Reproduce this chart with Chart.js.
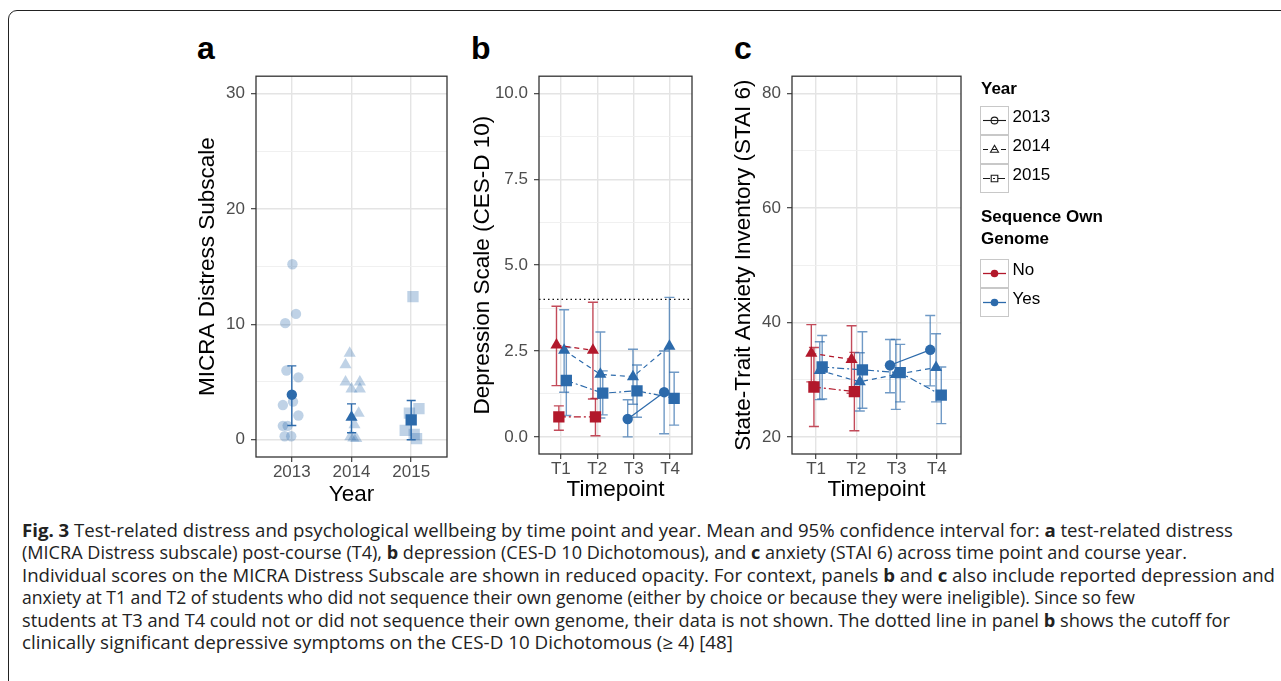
<!DOCTYPE html>
<html>
<head>
<meta charset="utf-8">
<script src="https://cdn.jsdelivr.net/npm/chart.js@4.4.1/dist/chart.umd.min.js"></script>
<style>
  body { margin: 0; background: #fff; width: 1281px; height: 681px; overflow: hidden; position: relative; font-family: 'Liberation Sans', Arial, sans-serif; }
  .frame { position: absolute; left: 8px; top: 10px; width: 1320px; height: 700px; border: 1.4px solid #222; border-radius: 9px; }
  canvas.panel { position: absolute; }
  .tag { position: absolute; top: 32px; font: bold 32px 'Liberation Sans', Arial, sans-serif; line-height: 32px; color: #000; }
  #caption { position: absolute; left: 22px; top: 519px; font-family: 'Open Sans', sans-serif; font-size: 17.5px; line-height: 22.4px; color: #222; white-space: nowrap; }
  #caption div { transform-origin: 0 0; }
</style>
</head>
<body>
<div class="frame"></div>
<div class="tag" style="left:197px">a</div>
<div class="tag" style="left:471px">b</div>
<div class="tag" style="left:734px">c</div>
<canvas class="panel" id="panelA" width="265" height="450" style="left:190px; top:60px"></canvas>
<canvas class="panel" id="panelB" width="235" height="445" style="left:465px; top:60px"></canvas>
<canvas class="panel" id="panelC" width="243" height="445" style="left:726px; top:60px"></canvas>
<canvas class="panel" id="legend" width="200" height="260" style="left:970px; top:70px"></canvas>
<div id="caption">
  <div><b>Fig. 3</b> Test-related distress and psychological wellbeing by time point and year. Mean and 95% confidence interval for: <b>a</b> test-related distress</div>
  <div>(MICRA Distress subscale) post-course (T4), <b>b</b> depression (CES-D 10 Dichotomous), and <b>c</b> anxiety (STAI 6) across time point and course year.</div>
  <div>Individual scores on the MICRA Distress Subscale are shown in reduced opacity. For context, panels <b>b</b> and <b>c</b> also include reported depression and</div>
  <div>anxiety at T1 and T2 of students who did not sequence their own genome (either by choice or because they were ineligible). Since so few</div>
  <div>students at T3 and T4 could not or did not sequence their own genome, their data is not shown. The dotted line in panel <b>b</b> shows the cutoff for</div>
  <div>clinically significant depressive symptoms on the CES-D 10 Dichotomous (≥ 4) [48]</div>
</div>
<script>
// ---- data ----
const years = ['2013', '2014', '2015'];
const timepoints = ['T1', 'T2', 'T3', 'T4'];
const genomeGroups = ['No', 'Yes'];

// a: MICRA distress subscale at T4
const distressMean = [3.9, 1.95, 1.72];
const distressLow = [1.23, 0.6, 0];
const distressHigh = [6.4, 3.1, 3.4];
const scores2013 = [15.2, 10.9, 10.1, 6.0, 5.4, 3.0, 3.3, 2.1, 1.2, 1.2, 0.3, 0.3];
const jitter2013 = [0.01, 0.07, -0.11, -0.09, 0.11, -0.15, 0.02, 0.11, -0.15, -0.07, -0.12, -0.01];
const scores2014 = [7.5, 6.5, 5.0, 5.0, 4.4, 4.4, 2.3, 1.3, 0.25, 0.15, 0.1];
const jitter2014 = [-0.03, -0.1, -0.1, 0.14, 0, 0.14, 0.12, 0.05, -0.02, 0.03, 0.08];
const scores2015 = [12.4, 2.7, 2.3, 0.8, 0.45, 0.1];
const jitter2015 = [0.03, 0.13, -0.03, -0.1, 0.05, 0.09];

// b: CES-D 10 by timepoint
const cesCutoff = 4;
const cesNo2014 = [2.67, 2.52, null, null];
const cesNo2014Low = [1.49, 1.1, null, null];
const cesNo2014High = [3.8, 3.92, null, null];
const cesNo2015 = [0.58, 0.58, null, null];
const cesNo2015Low = [0.19, 0.03, null, null];
const cesNo2015High = [0.9, 1.12, null, null];
const cesYes2013 = [null, null, 0.52, 1.3];
const cesYes2013Low = [null, null, 0, 0.09];
const cesYes2013High = [null, null, 1.08, 2.5];
const cesYes2014 = [2.52, 1.82, 1.75, 2.64];
const cesYes2014Low = [1.3, 0.55, 0.95, 1.22];
const cesYes2014High = [3.7, 3.05, 2.55, 4.06];
const cesYes2015 = [1.64, 1.27, 1.34, 1.12];
const cesYes2015Low = [0.62, 0.64, 0.57, 0.34];
const cesYes2015High = [2.6, 1.92, 2.09, 1.88];

// c: STAI 6 by timepoint
const staiNo2014 = [34.6, 33.5, null, null];
const staiNo2014Low = [29.6, 27.6, null, null];
const staiNo2014High = [39.6, 39.4, null, null];
const staiNo2015 = [28.7, 27.9, null, null];
const staiNo2015Low = [21.8, 21.05, null, null];
const staiNo2015High = [35.6, 34.75, null, null];
const staiYes2013 = [null, null, 32.5, 35.2];
const staiYes2013Low = [null, null, 27.7, 28.9];
const staiYes2013High = [null, null, 37.0, 41.2];
const staiYes2014 = [31.6, 29.6, 30.9, 32.1];
const staiYes2014Low = [26.5, 24.5, 24.8, 26.1];
const staiYes2014High = [36.6, 34.7, 37.0, 38.0];
const staiYes2015 = [32.2, 31.7, 31.2, 27.3];
const staiYes2015Low = [26.6, 25.0, 26.1, 22.3];
const staiYes2015High = [37.7, 38.35, 36.15, 32.2];

// ---- styles ----
const FONT = "'Liberation Sans', Arial, sans-serif";
const colors = { No: '#B2182B', Yes: '#2C6AAB' };
const barColors = { No: 'rgba(178,24,43,0.78)', Yes: 'rgba(44,106,171,0.68)' };
const lightBlue = 'rgba(44,106,171,0.3)';
const yearStyle = {
  '2013': { point: 'circle', radius: 5.2, dash: [] },
  '2014': { point: 'triangle', radius: 7, dash: [5, 4] },
  '2015': { point: 'rect', radius: 8, dash: [7, 3, 2, 3] }
};
// position_dodge offsets (in category units) per year/group and timepoint
const dodge = {
  'No2014': [-0.12, -0.12, 0, 0],
  'No2015': [-0.055, -0.05, 0, 0],
  'Yes2013': [0, 0, -0.165, -0.165],
  'Yes2014': [0.09, 0.085, -0.02, -0.02],
  'Yes2015': [0.15, 0.15, 0.09, 0.11]
};

// error bars + full panel border
const panelFrame = {
  id: 'panelFrame',
  beforeDatasetsDraw(chart) {
    const { ctx, scales: { x, y } } = chart;
    chart.data.datasets.forEach(ds => {
      if (!ds.errLow) return;
      ctx.save();
      ctx.strokeStyle = ds.errColor;
      ctx.lineWidth = 1.4;
      ds.data.forEach((p, i) => {
        if (p.y == null || ds.errLow[i] == null) return;
        const px = x.getPixelForValue(p.x);
        const y1 = y.getPixelForValue(ds.errLow[i]);
        const y2 = y.getPixelForValue(ds.errHigh[i]);
        const w = ds.capHalf;
        ctx.beginPath();
        ctx.moveTo(px, y1); ctx.lineTo(px, y2);
        ctx.moveTo(px - w, y1); ctx.lineTo(px + w, y1);
        ctx.moveTo(px - w, y2); ctx.lineTo(px + w, y2);
        ctx.stroke();
      });
      ctx.restore();
    });
  },
  afterDraw(chart) {
    const { ctx, chartArea: a } = chart;
    ctx.save();
    ctx.strokeStyle = '#333';
    ctx.lineWidth = 1.3;
    ctx.strokeRect(a.left, a.top, a.right - a.left, a.bottom - a.top);
    ctx.restore();
  }
};

function seriesDataset(group, year, vals, low, high) {
  const st = yearStyle[year];
  const off = dodge[group + year];
  return {
    type: 'line',
    data: vals.map((v, i) => ({ x: i + 1 + off[i], y: v })),
    borderColor: colors[group],
    borderWidth: 1.2,
    borderDash: st.dash,
    pointStyle: st.point,
    pointRadius: st.radius,
    pointBackgroundColor: colors[group],
    pointBorderWidth: 0,
    pointHoverRadius: st.radius,
    spanGaps: false,
    errLow: low, errHigh: high,
    errColor: barColors[group], capHalf: 5
  };
}

function panelOptions(cfg) {
  const major = v => cfg.isMajor(v);
  return {
    responsive: false,
    animation: false,
    events: [],
    layout: { padding: { top: cfg.padTop, right: 8, left: 0, bottom: 0 } },
    plugins: { legend: { display: false }, tooltip: { enabled: false } },
    scales: {
      x: {
        type: 'linear', min: cfg.xMin, max: cfg.xMax,
        afterBuildTicks: s => { s.ticks = cfg.xLabels.map((_, i) => ({ value: i + 1 })); },
        afterFit: s => { s.height = cfg.xHeight; },
        ticks: { autoSkip: false, maxRotation: 0, padding: 0, color: '#4d4d4d', font: { family: FONT, size: 17 },
                 callback: v => cfg.xLabels[Math.round(v) - 1] },
        grid: { color: '#e4e4e4', lineWidth: 1.4, tickColor: '#333', tickLength: 5, tickWidth: 1.1 },
        border: { display: false },
        title: { display: true, text: cfg.xTitle, color: '#000', font: { family: FONT, size: 22.5 }, padding: { top: 0, bottom: 2 } }
      },
      y: {
        type: 'linear', min: cfg.yMin, max: cfg.yMax,
        afterBuildTicks: s => { s.ticks = cfg.yTicks.map(v => ({ value: v })); },
        afterFit: s => { s.width = cfg.yWidth; },
        ticks: { autoSkip: false, padding: 6, color: '#4d4d4d', font: { family: FONT, size: 17 },
                 callback: v => major(v) ? cfg.fmt(v) : '' },
        grid: {
          color: c => c.tick && major(c.tick.value) ? '#e4e4e4' : '#eeeeee',
          lineWidth: c => c.tick && major(c.tick.value) ? 1.4 : 0.9,
          tickColor: c => c.tick && major(c.tick.value) ? '#333' : 'rgba(0,0,0,0)',
          tickLength: 5, tickWidth: 1.1
        },
        border: { display: false },
        title: { display: true, text: cfg.yTitle, color: '#000', font: { family: FONT, size: 22.5 }, padding: { top: 4, bottom: 0 } }
      }
    }
  };
}

// ---- panel a ----
const jitterSets = [[scores2013, jitter2013], [scores2014, jitter2014], [scores2015, jitter2015]];
const individualDatasets = jitterSets.map(([scores, jit], k) => ({
  type: 'scatter',
  data: scores.map((s, i) => ({ x: k + 1 + jit[i], y: s })),
  pointStyle: yearStyle[years[k]].point,
  pointRadius: yearStyle[years[k]].radius,
  pointBackgroundColor: lightBlue,
  pointBorderWidth: 0
}));

new Chart(document.getElementById('panelA'), {
  type: 'scatter',
  data: {
    datasets: [
      ...individualDatasets,
      {
        type: 'scatter',
        data: distressMean.map((m, i) => ({ x: i + 1, y: m })),
        pointStyle: years.map(y => yearStyle[y].point),
        pointRadius: years.map(y => yearStyle[y].radius),
        pointBackgroundColor: colors.Yes,
        pointBorderWidth: 0,
        errLow: distressLow, errHigh: distressHigh,
        errColor: colors.Yes, capHalf: 4.5
      }
    ]
  },
  options: panelOptions({
    xMin: 0.4, xMax: 3.6, xLabels: years, xTitle: 'Year', xHeight: 53,
    yMin: -1.5, yMax: 31.5, yTicks: [0, 5, 10, 15, 20, 25, 30], isMajor: v => v % 10 === 0,
    fmt: v => String(v), yTitle: 'MICRA Distress Subscale', yWidth: 66, padTop: 13
  }),
  plugins: [panelFrame]
});

// ---- panel b ----
new Chart(document.getElementById('panelB'), {
  type: 'line',
  data: {
    datasets: [
      {
        type: 'line',
        data: [{ x: 0.4, y: cesCutoff }, { x: 4.6, y: cesCutoff }],
        borderColor: '#111', borderWidth: 1.3, borderDash: [1.5, 3], pointRadius: 0
      },
      seriesDataset('No', '2014', cesNo2014, cesNo2014Low, cesNo2014High),
      seriesDataset('No', '2015', cesNo2015, cesNo2015Low, cesNo2015High),
      seriesDataset('Yes', '2013', cesYes2013, cesYes2013Low, cesYes2013High),
      seriesDataset('Yes', '2014', cesYes2014, cesYes2014Low, cesYes2014High),
      seriesDataset('Yes', '2015', cesYes2015, cesYes2015Low, cesYes2015High)
    ]
  },
  options: panelOptions({
    xMin: 0.4, xMax: 4.6, xLabels: timepoints, xTitle: 'Timepoint', xHeight: 51,
    yMin: -0.5, yMax: 10.5, yTicks: [0, 1.25, 2.5, 3.75, 5, 6.25, 7.5, 8.75, 10], isMajor: v => v % 2.5 === 0,
    fmt: v => v.toFixed(1), yTitle: 'Depression Scale (CES-D 10)', yWidth: 74, padTop: 14
  }),
  plugins: [panelFrame]
});

// ---- panel c ----
new Chart(document.getElementById('panelC'), {
  type: 'line',
  data: {
    datasets: [
      seriesDataset('No', '2014', staiNo2014, staiNo2014Low, staiNo2014High),
      seriesDataset('No', '2015', staiNo2015, staiNo2015Low, staiNo2015High),
      seriesDataset('Yes', '2013', staiYes2013, staiYes2013Low, staiYes2013High),
      seriesDataset('Yes', '2014', staiYes2014, staiYes2014Low, staiYes2014High),
      seriesDataset('Yes', '2015', staiYes2015, staiYes2015Low, staiYes2015High)
    ]
  },
  options: panelOptions({
    xMin: 0.4, xMax: 4.6, xLabels: timepoints, xTitle: 'Timepoint', xHeight: 51,
    yMin: 17, yMax: 83, yTicks: [20, 30, 40, 50, 60, 70, 80], isMajor: v => v % 20 === 0,
    fmt: v => String(v), yTitle: 'State-Trait Anxiety Inventory (STAI 6)', yWidth: 66, padTop: 14
  }),
  plugins: [panelFrame]
});

// ---- legend ----
function drawLegend() {
  const cv = document.getElementById('legend');
  const ctx = cv.getContext('2d');
  const ox = 970, oy = 70;   // canvas page offset
  const keyX = 980 - ox, keyW = 29, keyH = 29;

  function keyBox(top) {
    ctx.fillStyle = '#fff';
    ctx.fillRect(keyX, top, keyW, keyH);
    ctx.strokeStyle = '#c8c8c8';
    ctx.lineWidth = 1;
    ctx.strokeRect(keyX + 0.5, top + 0.5, keyW - 1, keyH - 1);
  }
  function label(text, y) {
    ctx.fillStyle = '#000';
    ctx.font = '17px ' + FONT;
    ctx.textBaseline = 'middle';
    ctx.fillText(text, keyX + keyW + 3.5, y);
  }
  ctx.fillStyle = '#000';
  ctx.font = 'bold 17px ' + FONT;
  ctx.textBaseline = 'alphabetic';
  ctx.fillText('Year', keyX + 1, 94 - oy);

  years.forEach((yr, i) => {
    const top = 106 - oy + i * keyH;
    const cy = top + keyH / 2;
    const cx = keyX + keyW / 2;
    keyBox(top);
    ctx.save();
    ctx.strokeStyle = '#1a1a1a';
    ctx.lineWidth = 1.1;
    ctx.setLineDash(yearStyle[yr].dash);
    ctx.beginPath(); ctx.moveTo(keyX + 3, cy); ctx.lineTo(keyX + keyW - 3, cy); ctx.stroke();
    ctx.setLineDash([]);
    ctx.lineWidth = 1.1;
    ctx.beginPath();
    if (yearStyle[yr].point === 'circle') {
      ctx.arc(cx, cy, 3.4, 0, Math.PI * 2);
    } else if (yearStyle[yr].point === 'triangle') {
      ctx.moveTo(cx, cy - 4.2); ctx.lineTo(cx + 4, cy + 2.8); ctx.lineTo(cx - 4, cy + 2.8); ctx.closePath();
    } else {
      ctx.rect(cx - 3.3, cy - 3.3, 6.6, 6.6);
    }
    ctx.stroke();
    ctx.restore();
    label(yr, cy - 3);
  });

  ctx.fillStyle = '#000';
  ctx.font = 'bold 17px ' + FONT;
  ctx.textBaseline = 'alphabetic';
  ctx.fillText('Sequence Own', keyX + 1, 221.5 - oy);
  ctx.fillText('Genome', keyX + 1, 243.5 - oy);

  genomeGroups.forEach((g, i) => {
    const top = 259 - oy + i * keyH;
    const cy = top + keyH / 2;
    keyBox(top);
    ctx.strokeStyle = colors[g];
    ctx.lineWidth = 1.3;
    ctx.beginPath(); ctx.moveTo(keyX + 3, cy); ctx.lineTo(keyX + keyW - 3, cy); ctx.stroke();
    ctx.fillStyle = colors[g];
    ctx.beginPath(); ctx.arc(keyX + keyW / 2, cy, 3.8, 0, Math.PI * 2); ctx.fill();
    label(g, cy - 3);
  });
}
drawLegend();

// fit each caption line to the line length seen in the reference
const captionWidths = [1211, 1165, 1253, 1113, 1208, 711];
function fitCaption() {
  const lines = document.querySelectorAll('#caption div');
  lines.forEach((line, i) => {
    line.style.transform = 'none';
    const range = document.createRange();
    range.selectNodeContents(line);
    const w = range.getBoundingClientRect().width;
    line.style.transform = 'scaleX(' + (captionWidths[i] / w) + ')';
  });
}
fitCaption();
document.fonts.ready.then(fitCaption);
</script>
</body>
</html>
